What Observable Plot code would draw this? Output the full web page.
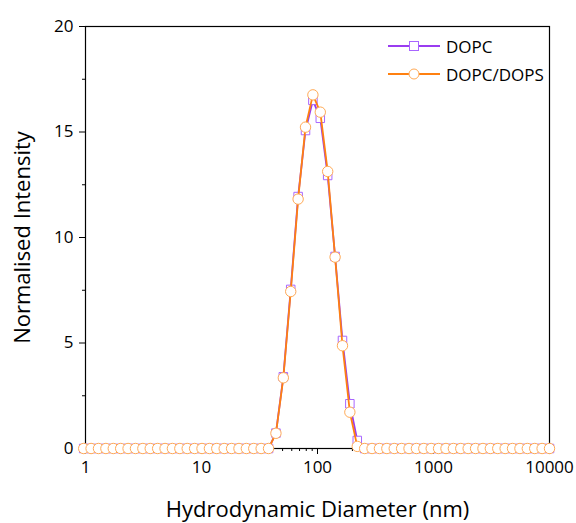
<!DOCTYPE html>
<html><head><meta charset="utf-8">
<script src="https://cdn.jsdelivr.net/npm/d3@7"></script>
<script src="https://cdn.jsdelivr.net/npm/@observablehq/plot@0.6"></script>
<style>
body{margin:0;background:#fff;font-family:"Open Sans",sans-serif;}
#wrap{position:relative;width:576px;height:523px;}
#legend{position:absolute;left:388px;top:32px;font-size:17px;color:#000;}
#legend div{display:flex;align-items:center;height:28px;}
#legend svg{margin-right:4px;}
</style></head>
<body><div id="wrap"><div id="legend"></div></div>
<script>
const sizes = [0.9649,1.117,1.294,1.499,1.736,2.010,2.328,2.696,3.122,3.615,4.187,4.849,5.615,6.503,7.531,8.721,10.10,11.70,13.54,15.69,18.17,21.04,24.36,28.21,32.67,37.84,43.82,50.75,58.77,68.06,78.82,91.28,105.7,122.4,141.8,164.2,190.1,220.2,255.0,295.3,342.0,396.1,458.7,531.2,615.1,712.4,825.0,955.4,1106,1281,1484,1718,1990,2305,2669,3091,3580,4145,4801,5560,6439,7456,8635,10000];
const dopc = [0,0,0,0,0,0,0,0,0,0,0,0,0,0,0,0,0,0,0,0,0,0,0,0,0,0,0.73,3.4,7.54,11.94,15.07,16.5,15.65,12.94,9.1,5.12,2.12,0.38,0,0,0,0,0,0,0,0,0,0,0,0,0,0,0,0,0,0,0,0,0,0,0,0,0,0];
const dopcDops = [0,0,0,0,0,0,0,0,0,0,0,0,0,0,0,0,0,0,0,0,0,0,0,0,0,0,0.72,3.35,7.44,11.82,15.23,16.76,15.94,13.13,9.07,4.87,1.72,0.1,0,0,0,0,0,0,0,0,0,0,0,0,0,0,0,0,0,0,0,0,0,0,0,0,0,0];
const seriesNames = ["DOPC","DOPC/DOPS"];
const xMajor = [1,10,100,1000,10000];
const yMajor = [0,5,10,15,20];
const yMinor = [2.5,7.5,12.5,17.5];
const xMinor = [];
for (const d of [1,10,100,1000]) for (let m=2;m<=9;m++) xMinor.push(d*m);

const lineP = "#9a3cf0", mkP = "#a866ff";
const lineO = "#ff8010", mkO = "#ffaa55";

const d1 = sizes.map((s,i)=>({x:s,y:dopc[i]}));
const d2 = sizes.map((s,i)=>({x:s,y:dopcDops[i]}));

const chart = Plot.plot({
  width:576, height:523,
  marginLeft:85, marginRight:27, marginTop:26, marginBottom:75,
  style:{fontFamily:"Open Sans, sans-serif", fontSize:"17px", color:"#000", background:"#fff"},
  x:{type:"log", domain:[1,10000]},
  y:{domain:[0,20]},
  marks:[
    Plot.frame({stroke:"#000", strokeWidth:1.2}),
    Plot.axisY(yMajor,{tickSize:6, tickPadding:6, tickFormat:d=>d, fontSize:17, label:null, stroke:"#000"}),
    Plot.axisY(yMinor,{tickSize:3, tickFormat:()=>"", label:null, stroke:"#000"}),
    Plot.axisX(xMajor,{tickSize:6, tickPadding:6, tickFormat:d=>String(d), fontSize:17, label:null, stroke:"#000"}),
    Plot.axisX(xMinor,{tickSize:3, tickFormat:()=>"", label:null, stroke:"#000"}),
    Plot.line(d1,{x:"x",y:"y",stroke:lineP,strokeWidth:1.8}),
    Plot.dot(d1,{x:"x",y:"y",symbol:"square",r:4.8,stroke:mkP,fill:"#fff",strokeWidth:1}),
    Plot.line(d2,{x:"x",y:"y",stroke:lineO,strokeWidth:1.8}),
    Plot.dot(d2,{x:"x",y:"y",symbol:"circle",r:5.2,stroke:mkO,fill:"#fff",strokeWidth:1}),
    Plot.text(["Hydrodynamic Diameter (nm)"],{frameAnchor:"bottom",dy:61,fontSize:22,text:d=>d,fill:"#000",lineAnchor:"middle"}),
    Plot.text(["Normalised Intensity"],{frameAnchor:"left",dx:-63,rotate:-90,fontSize:22,text:d=>d,fill:"#000",textAnchor:"middle",lineAnchor:"middle"})
  ]
});
document.getElementById("wrap").prepend(chart);

const leg = document.getElementById("legend");
const styles = [
  {line:lineP, mk:mkP, shape:"square"},
  {line:lineO, mk:mkO, shape:"circle"}
];
seriesNames.forEach((n,i)=>{
  const s = styles[i];
  const row = document.createElement("div");
  const mk = s.shape==="square"
    ? `<rect x="21.5" y="9.5" width="9" height="9" fill="#fff" stroke="${s.mk}"/>`
    : `<circle cx="26" cy="14" r="5" fill="#fff" stroke="${s.mk}"/>`;
  row.innerHTML = `<svg width="54" height="28"><line x1="0" x2="52" y1="14" y2="14" stroke="${s.line}" stroke-width="1.8"/>${mk}</svg><span>${n}</span>`;
  leg.appendChild(row);
});
</script></body></html>
